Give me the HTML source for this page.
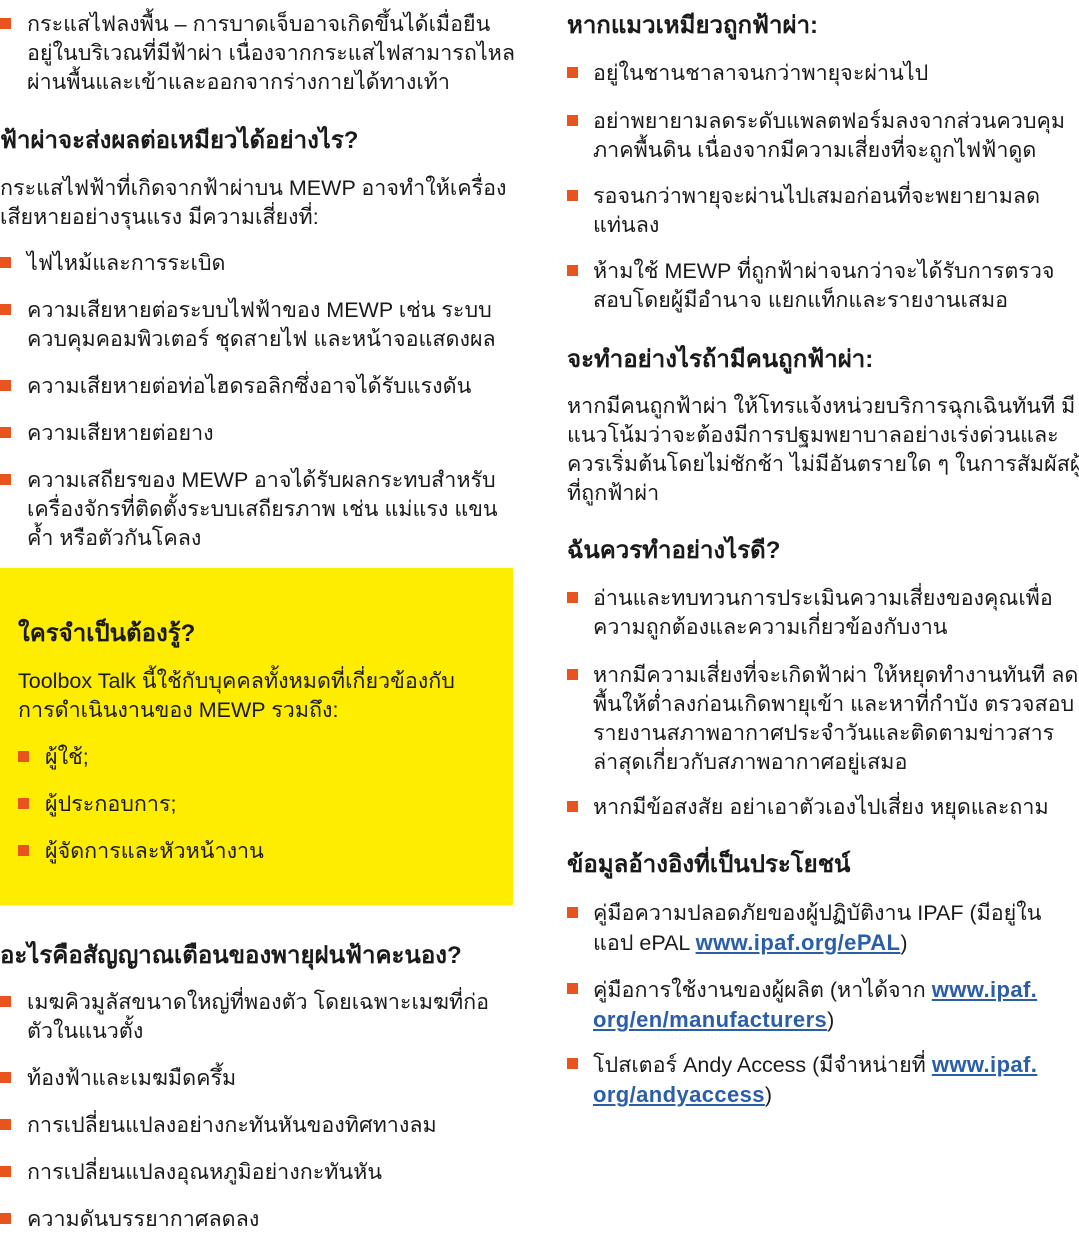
<!DOCTYPE html>
<html><head><meta charset="utf-8">
<style>
body{margin:0;width:1079px;height:1245px;background:#fff;position:relative;overflow:hidden;font-family:"Liberation Sans","DejaVu Sans",sans-serif;color:#1a1a1a}
.t{position:absolute;font-size:21.5px;line-height:29px;white-space:nowrap}
.h{position:absolute;font-size:24px;line-height:29px;font-weight:bold;white-space:nowrap}
.b{position:absolute;width:11px;height:11px;background:#e8531e}
.y{position:absolute;left:0;top:568px;width:513px;height:337px;background:#ffed00}
a{color:#2a5ea8;text-decoration:underline;font-weight:bold;font-size:22px;letter-spacing:0.4px}
</style></head><body>
<div class="y"></div>

<div class="b" style="left:0;top:18px"></div>
<div class="t" style="left:27px;top:10px">กระแสไฟลงพื้น – การบาดเจ็บอาจเกิดขึ้นได้เมื่อยืน<br>อยู่ในบริเวณที่มีฟ้าผ่า เนื่องจากกระแสไฟสามารถไหล<br>ผ่านพื้นและเข้าและออกจากร่างกายได้ทางเท้า</div>
<div class="h" style="left:0;top:126px">ฟ้าผ่าจะส่งผลต่อเหมียวได้อย่างไร?</div>
<div class="t" style="left:0;top:174px">กระแสไฟฟ้าที่เกิดจากฟ้าผ่าบน MEWP อาจทำให้เครื่อง<br>เสียหายอย่างรุนแรง มีความเสี่ยงที่:</div>
<div class="b" style="left:0;top:257px"></div><div class="t" style="left:27px;top:249px">ไฟไหม้และการระเบิด</div>
<div class="b" style="left:0;top:304px"></div><div class="t" style="left:27px;top:296px">ความเสียหายต่อระบบไฟฟ้าของ MEWP เช่น ระบบ<br>ควบคุมคอมพิวเตอร์ ชุดสายไฟ และหน้าจอแสดงผล</div>
<div class="b" style="left:0;top:380px"></div><div class="t" style="left:27px;top:372px">ความเสียหายต่อท่อไฮดรอลิกซึ่งอาจได้รับแรงดัน</div>
<div class="b" style="left:0;top:427px"></div><div class="t" style="left:27px;top:419px">ความเสียหายต่อยาง</div>
<div class="b" style="left:0;top:474px"></div><div class="t" style="left:27px;top:466px">ความเสถียรของ MEWP อาจได้รับผลกระทบสำหรับ<br>เครื่องจักรที่ติดตั้งระบบเสถียรภาพ เช่น แม่แรง แขน<br>ค้ำ หรือตัวกันโคลง</div>

<div class="h" style="left:18px;top:619px">ใครจำเป็นต้องรู้?</div>
<div class="t" style="left:18px;top:667px">Toolbox Talk นี้ใช้กับบุคคลทั้งหมดที่เกี่ยวข้องกับ<br>การดำเนินงานของ MEWP รวมถึง:</div>
<div class="b" style="left:18px;top:751px"></div><div class="t" style="left:45px;top:743px">ผู้ใช้;</div>
<div class="b" style="left:18px;top:798px"></div><div class="t" style="left:45px;top:790px">ผู้ประกอบการ;</div>
<div class="b" style="left:18px;top:845px"></div><div class="t" style="left:45px;top:837px">ผู้จัดการและหัวหน้างาน</div>

<div class="h" style="left:0;top:941px">อะไรคือสัญญาณเตือนของพายุฝนฟ้าคะนอง?</div>
<div class="b" style="left:0;top:996px"></div><div class="t" style="left:27px;top:988px">เมฆคิวมูลัสขนาดใหญ่ที่พองตัว โดยเฉพาะเมฆที่ก่อ<br>ตัวในแนวตั้ง</div>
<div class="b" style="left:0;top:1072px"></div><div class="t" style="left:27px;top:1064px">ท้องฟ้าและเมฆมืดครึ้ม</div>
<div class="b" style="left:0;top:1119px"></div><div class="t" style="left:27px;top:1111px">การเปลี่ยนแปลงอย่างกะทันหันของทิศทางลม</div>
<div class="b" style="left:0;top:1166px"></div><div class="t" style="left:27px;top:1158px">การเปลี่ยนแปลงอุณหภูมิอย่างกะทันหัน</div>
<div class="b" style="left:0;top:1213px"></div><div class="t" style="left:27px;top:1205px">ความดันบรรยากาศลดลง</div>

<div class="h" style="left:567px;top:11px">หากแมวเหมียวถูกฟ้าผ่า:</div>
<div class="b" style="left:567px;top:67px"></div><div class="t" style="left:593px;top:59px">อยู่ในชานชาลาจนกว่าพายุจะผ่านไป</div>
<div class="b" style="left:567px;top:115px"></div><div class="t" style="left:593px;top:107px">อย่าพยายามลดระดับแพลตฟอร์มลงจากส่วนควบคุม<br>ภาคพื้นดิน เนื่องจากมีความเสี่ยงที่จะถูกไฟฟ้าดูด</div>
<div class="b" style="left:567px;top:190px"></div><div class="t" style="left:593px;top:182px">รอจนกว่าพายุจะผ่านไปเสมอก่อนที่จะพยายามลด<br>แท่นลง</div>
<div class="b" style="left:567px;top:265px"></div><div class="t" style="left:593px;top:257px">ห้ามใช้ MEWP ที่ถูกฟ้าผ่าจนกว่าจะได้รับการตรวจ<br>สอบโดยผู้มีอำนาจ แยกแท็กและรายงานเสมอ</div>
<div class="h" style="left:567px;top:345px">จะทำอย่างไรถ้ามีคนถูกฟ้าผ่า:</div>
<div class="t" style="left:567px;top:392px">หากมีคนถูกฟ้าผ่า ให้โทรแจ้งหน่วยบริการฉุกเฉินทันที มี<br>แนวโน้มว่าจะต้องมีการปฐมพยาบาลอย่างเร่งด่วนและ<br>ควรเริ่มต้นโดยไม่ชักช้า ไม่มีอันตรายใด ๆ ในการสัมผัสผู้<br>ที่ถูกฟ้าผ่า</div>
<div class="h" style="left:567px;top:536px">ฉันควรทำอย่างไรดี?</div>
<div class="b" style="left:567px;top:592px"></div><div class="t" style="left:593px;top:584px">อ่านและทบทวนการประเมินความเสี่ยงของคุณเพื่อ<br>ความถูกต้องและความเกี่ยวข้องกับงาน</div>
<div class="b" style="left:567px;top:669px"></div><div class="t" style="left:593px;top:661px">หากมีความเสี่ยงที่จะเกิดฟ้าผ่า ให้หยุดทำงานทันที ลด<br>พื้นให้ต่ำลงก่อนเกิดพายุเข้า และหาที่กำบัง ตรวจสอบ<br>รายงานสภาพอากาศประจำวันและติดตามข่าวสาร<br>ล่าสุดเกี่ยวกับสภาพอากาศอยู่เสมอ</div>
<div class="b" style="left:567px;top:801px"></div><div class="t" style="left:593px;top:793px">หากมีข้อสงสัย อย่าเอาตัวเองไปเสี่ยง หยุดและถาม</div>
<div class="h" style="left:567px;top:850px">ข้อมูลอ้างอิงที่เป็นประโยชน์</div>
<div class="b" style="left:567px;top:907px"></div><div class="t" style="left:593px;top:899px">คู่มือความปลอดภัยของผู้ปฏิบัติงาน IPAF (มีอยู่ใน<br>แอป ePAL <a>www.ipaf.org/ePAL</a>)</div>
<div class="b" style="left:567px;top:983px"></div><div class="t" style="left:593px;top:975px">คู่มือการใช้งานของผู้ผลิต (หาได้จาก <a>www.ipaf.</a><br><a>org/en/manufacturers</a>)</div>
<div class="b" style="left:567px;top:1058px"></div><div class="t" style="left:593px;top:1050px">โปสเตอร์ Andy Access (มีจำหน่ายที่ <a>www.ipaf.</a><br><a>org/andyaccess</a>)</div>
</body></html>
